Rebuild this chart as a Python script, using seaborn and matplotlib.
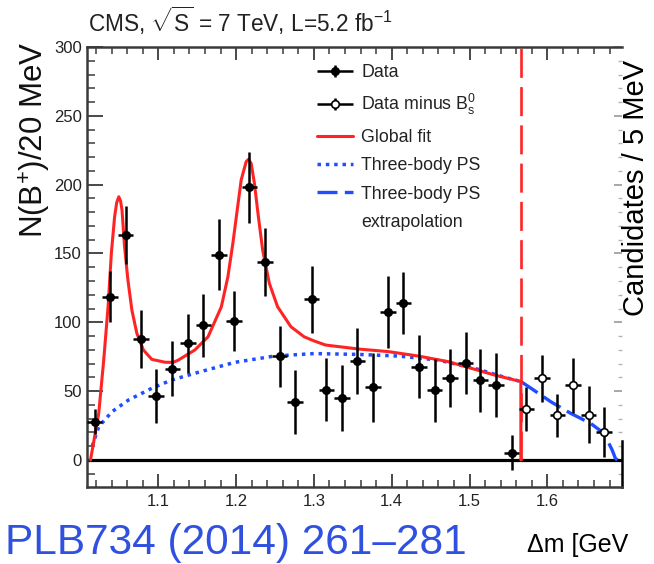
import numpy as np
import pandas as pd
import matplotlib
matplotlib.use("Agg")
import matplotlib.pyplot as plt
import seaborn as sns
from matplotlib.lines import Line2D
from matplotlib.legend_handler import HandlerErrorbar
from matplotlib.container import ErrorbarContainer
from matplotlib.ticker import MultipleLocator, FixedLocator

# ---------------- data ----------------
x_data = [1.018, 1.038, 1.058, 1.078, 1.097, 1.118, 1.138, 1.158, 1.178, 1.197,
          1.217, 1.237, 1.256, 1.276, 1.297, 1.316, 1.336, 1.356, 1.376, 1.395,
          1.415, 1.435, 1.455, 1.475, 1.495, 1.514, 1.534, 1.554]
y_data = [27.7, 118.6, 163.6, 87.9, 46.4, 66.4, 84.7, 97.7, 149.2, 101.0,
          198.0, 143.7, 75.3, 42.1, 116.7, 51.0, 45.0, 72.2, 52.9, 107.6,
          114.3, 67.9, 50.5, 59.4, 70.3, 57.8, 54.6, 5.3]
yerr_data = [9.0, 18.5, 21.0, 21.0, 19.6, 20.0, 21.5, 23.0, 25.5, 22.0,
             26.0, 24.7, 22.0, 23.0, 24.5, 23.0, 24.0, 24.0, 25.0, 26.0,
             22.5, 22.7, 23.0, 21.0, 22.7, 23.0, 23.4, 12.7]

x_sub = [1.573, 1.593, 1.613, 1.633, 1.653, 1.673]
y_sub = [36.8, 59.4, 32.5, 54.2, 33.0, 20.4]
yerr_sub = [16.0, 17.0, 15.7, 20.0, 21.0, 18.0]

bin_half_width = 0.01

fit_x = [1.0128, 1.0234, 1.0298, 1.0354, 1.0396, 1.0438, 1.0465, 1.0492, 1.0515,
         1.0533, 1.0566, 1.0609, 1.0660, 1.0724, 1.0808, 1.0916, 1.1086, 1.1190,
         1.1255, 1.1469, 1.1639, 1.1810, 1.1894, 1.1958, 1.2014, 1.2065, 1.2129,
         1.2158, 1.2193, 1.2235, 1.2286, 1.2341, 1.2427, 1.2533, 1.2704, 1.2874,
         1.3001, 1.3150, 1.3576, 1.3960, 1.4345, 1.4728, 1.5023, 1.5322, 1.5660,
         1.5660]
fit_y = [0.0, 33.9, 72.6, 111.3, 150.1, 176.7, 187.0, 191.2, 188.0,
         181.6, 154.9, 130.7, 108.9, 92.0, 79.9, 73.1, 71.0, 70.9,
         72.5, 79.9, 89.5, 111.3, 133.1, 157.4, 181.6, 203.4, 216.7,
         218.4, 215.5, 201.0, 176.7, 152.5, 128.3, 111.3, 96.8, 89.5,
         86.5, 83.5, 80.6, 78.7, 75.5, 71.4, 66.6, 61.7, 57.0,
         0.0]

ps_x = [1.0150, 1.0234, 1.0405, 1.0617, 1.0916, 1.1171, 1.1469, 1.1980, 1.2490,
        1.3000, 1.3576, 1.4087, 1.4598, 1.5109, 1.5450, 1.5660]
ps_y = [10.0, 24.2, 35.1, 43.6, 52.1, 58.1, 63.0, 70.9, 75.5,
        77.3, 76.7, 75.5, 72.6, 65.9, 60.1, 57.0]

ext_x = [1.5660, 1.5790, 1.6045, 1.6300, 1.6556, 1.6727, 1.6833, 1.6875, 1.6900]
ext_y = [57.0, 52.1, 42.3, 33.9, 26.6, 19.4, 7.3, 1.2, 0.0]

threshold = 1.566

x_major = [1.1, 1.2, 1.3, 1.4, 1.5, 1.6, 1.7]
x_labels = ["1.1", "1.2", "1.3", "1.4", "1.5", "1.6", "1."]
y_major = [0, 50, 100, 150, 200, 250, 300]

# ---------------- style ----------------
sns.set_theme(style="ticks")
plt.rcParams["font.family"] = ["Liberation Sans", "DejaVu Sans"]
plt.rcParams["mathtext.fontset"] = "custom"
plt.rcParams["mathtext.rm"] = "Liberation Sans"
plt.rcParams["mathtext.it"] = "Liberation Sans:italic"
plt.rcParams["mathtext.bf"] = "Liberation Sans:bold"

RED = "#ff2424"
BLUE = "#1f4dff"
FRAME = "#3a3a3a"

W, H = 654, 564
fig = plt.figure(figsize=(W / 100, H / 100), dpi=100)
L, R, T, B = 87.3, 621.7, 47.0, 486.7
ax = fig.add_axes([L / W, 1 - B / H, (R - L) / W, (B - T) / H])

# curves
sns.lineplot(x=fit_x, y=fit_y, sort=False, estimator=None, ax=ax,
             color=RED, lw=2.2, zorder=3)
sns.lineplot(x=ps_x, y=ps_y, sort=False, estimator=None, ax=ax,
             color=BLUE, lw=2.5, zorder=2)
ax.lines[-1].set_dashes((1.0, 1.4))
sns.lineplot(x=ext_x, y=ext_y, sort=False, estimator=None, ax=ax,
             color=BLUE, lw=2.4, zorder=2)
ax.lines[-1].set_dashes((6.0, 2.2))

# threshold line
ax.vlines(threshold, 0, 300, color=RED, lw=1.9, linestyles=(0, (11, 3.5)), zorder=3)

# zero line
ax.axhline(0, color="black", lw=2.3, zorder=1)

# data points
eb1 = ax.errorbar(x_data, y_data, yerr=yerr_data, xerr=bin_half_width, fmt="o",
                  color="black", ms=5.5, mfc="black", mec="black",
                  elinewidth=1.8, capsize=0, zorder=5)
eb2 = ax.errorbar(x_sub, y_sub, yerr=yerr_sub, xerr=bin_half_width, fmt="o",
                  color="black", ms=5.5, mfc="white", mec="black", mew=1.2,
                  elinewidth=1.8, capsize=0, zorder=5)

# axes
ax.set_xlim(1.0087, 1.6956)
ax.set_ylim(-19.4, 300)
ax.xaxis.set_major_locator(FixedLocator(x_major))
ax.set_xticklabels(x_labels)
ax.xaxis.set_minor_locator(MultipleLocator(0.02))
ax.yaxis.set_major_locator(FixedLocator(y_major))
ax.yaxis.set_minor_locator(MultipleLocator(10))
ax.set_xlabel("")
ax.set_ylabel("")
ax.tick_params(axis="x", which="major", direction="in", length=9.4, width=1.3,
               top=True, bottom=True, color=FRAME, labelsize=12, pad=5,
               labelcolor="#222222")
ax.tick_params(axis="x", which="minor", direction="in", length=4.8, width=1.1,
               top=True, bottom=True, color=FRAME)
ax.tick_params(axis="y", which="major", direction="in", length=11.5, width=1.3,
               left=True, right=False, color=FRAME, labelsize=12, pad=4,
               labelcolor="#222222")
ax.tick_params(axis="y", which="minor", direction="in", length=5.8, width=1.1,
               left=True, right=False, color=FRAME)
for s in ["left", "bottom", "top"]:
    ax.spines[s].set_color(FRAME)
    ax.spines[s].set_linewidth(1.8)
ax.spines["right"].set_color("black")
ax.spines["right"].set_linewidth(1.8)
ax.spines["right"].set_bounds(-19.4, 14)

sec = ax.secondary_yaxis("right")
sec.yaxis.set_major_locator(FixedLocator(y_major))
sec.yaxis.set_minor_locator(MultipleLocator(10))
sec.tick_params(which="major", direction="in", length=6, width=1.2, color="#9a9a9a",
                labelright=False)
sec.tick_params(which="minor", direction="in", length=3, width=1.0, color="#b5b5b5")
sec.spines["right"].set_visible(False)

# legend
handles = [
    eb1,
    eb2,
    Line2D([], [], color=RED, lw=2.2),
    Line2D([], [], color=BLUE, lw=2.5, dashes=(1.0, 1.4)),
    Line2D([], [], color=BLUE, lw=2.4, dashes=(6.0, 2.2)),
    Line2D([], [], color="none", lw=0),
]
labels = ["Data", r"Data minus B$_\mathregular{s}^\mathregular{0}$", "Global fit",
          "Three-body PS", "Three-body PS", "extrapolation"]
leg = ax.legend(handles, labels, loc="upper left",
                bbox_to_anchor=(317 / W, 1 - 64 / H), bbox_transform=fig.transFigure,
                frameon=False, fontsize=12.8, handlelength=2.0, handletextpad=0.5,
                labelspacing=0.64, borderpad=0, borderaxespad=0,
                handler_map={ErrorbarContainer: HandlerErrorbar(xerr_size=1.0, yerr_size=0.35)})
for t in leg.get_texts():
    t.set_color("#222222")

# texts
fig.text(88 / W, 1 - 21 / H, r"CMS, $\sqrt{\mathregular{S}}$ = 7 TeV, L=5.2 fb$^\mathregular{-1}$",
         fontsize=16.3, ha="left", va="center", color="#222222")
fig.text(35 / W, 1 - 140 / H, r"N(B$^\mathregular{+}$)/20 MeV", rotation=90,
         fontsize=22.5, ha="center", va="center", color="#111111")
fig.text(636.5 / W, 1 - 188 / H, "Candidates / 5 MeV", rotation=90,
         fontsize=21, ha="center", va="center", color="black")
fig.text(5 / W, 1 - 543 / H, "PLB734 (2014) 261\u2013281",
         fontsize=30.5, ha="left", va="center", color="#3050e0")
fig.text(527 / W, 1 - 545 / H, "\u0394m [GeV",
         fontsize=18, ha="left", va="center", color="black")

fig.savefig("out.png", dpi=100)
